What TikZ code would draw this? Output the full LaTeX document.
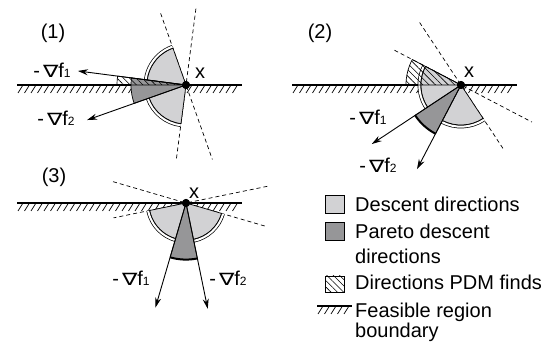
\documentclass[tikz,border=0pt]{standalone}
\usepackage{fontspec}
\setmainfont{Liberation Sans}
\newfontfamily\dejavu{DejaVu Sans}
\usetikzlibrary{arrows.meta,patterns.meta}
\definecolor{lightg}{RGB}{210,210,212}
\definecolor{darkg}{RGB}{150,150,152}
\newcommand{\nab}{{\dejavu\scalebox{1.15}[0.85]{∇}}}
\newcommand{\ngrad}[1]{-\hspace{3pt}\nab f{\fontsize{12}{12}\selectfont #1}}
\newcommand{\groundhatch}[2]{\foreach \xx in {#1} {\draw[hstroke] (\xx,#2) -- ++(-5,-8);}}
\begin{document}
\begin{tikzpicture}[x=1pt,y=1pt, font=\fontsize{20}{24}\selectfont,
  gline/.style={line width=1.6pt},
  hstroke/.style={line width=0.7pt},
  dline/.style={line width=0.7pt, dash pattern=on 4pt off 3pt},
  lightsec/.style={fill=lightg, draw=black, line width=0.7pt, line join=round},
  darksec/.style={fill=darkg, draw=black, line width=0.7pt, line join=round},
  hatchsec/.style={pattern={Lines[angle=-45,distance=4.5pt,line width=0.6pt]}, draw=black, line width=0.7pt, line join=round},
  dblarc/.style={draw=black, line width=0.7pt, double=white, double distance=2pt},
  thickarc/.style={line width=2pt},
  arr/.style={line width=0.9pt, -{Stealth[length=10pt,width=6pt]}},
  dotnode/.style={circle, fill=black, inner sep=0pt, minimum size=8pt},
  lbl/.style={inner sep=0pt},
  legbox/.style={draw=black, line width=0.7pt, minimum width=19pt, inner sep=0pt},
]
\useasboundingbox (0,0) rectangle (550,343);

% ---------------- Panel 1 ----------------
\begin{scope}[shift={(186,258)}]
  \draw[gline] (-169,0) -- (56,0);
  \groundhatch{-163,-156.5,...,54}{0}
  \draw[dline] (82.6:77pt) -- (262.6:75pt);
  \draw[dline] (109.5:76pt) -- (289.5:79pt);
  \filldraw[lightsec] (0,0) -- (109.5:39pt) arc[start angle=109.5, end angle=262.6, radius=39pt] -- cycle;
  \draw[dblarc] (109.5:40.7pt) arc[start angle=109.5, end angle=262.6, radius=40.7pt];
  \filldraw[darksec] (0,0) -- (172.6:55pt) arc[start angle=172.6, end angle=199.5, radius=55pt] -- cycle;
  \draw[hatchsec] (0,0) -- (172.6:69pt) arc[start angle=172.6, end angle=180, radius=69pt] -- cycle;
  \coordinate (t11) at (172.6:109pt);
  \coordinate (t12) at (199.5:105pt);
  \node[dotnode] (p1) at (0,0) {};
  \draw[arr] (p1.center) -- (t11);
  \draw[arr] (p1.center) -- (t12);
  \node[dotnode] at (p1) {};
\end{scope}
\node[lbl] (n1) at (53,310) {(1)};
\node[lbl] (x1) at (200,270) {x};
\node[lbl] (g11) at (52,273) {\ngrad{1}};
\node[lbl] (g12) at (56,225) {\ngrad{2}};

% ---------------- Panel 2 ----------------
\begin{scope}[shift={(461,258)}]
  \draw[gline] (-169,0) -- (56,0);
  \groundhatch{-163,-156.5,...,54}{0}
  \draw[dline] (123.5:75pt) -- (303.5:78.5pt);
  \draw[dline] (152.4:75pt) -- (332.4:80pt);
  \filldraw[lightsec] (0,0) -- (152.4:40pt) arc[start angle=152.4, end angle=303.5, radius=40pt] -- cycle;
  \draw[dblarc] (152.4:41.7pt) arc[start angle=152.4, end angle=303.5, radius=41.7pt];
  \filldraw[darksec] (0,0) -- (213.5:55pt) arc[start angle=213.5, end angle=242.4, radius=55pt] -- cycle;
  \draw[thickarc] (213.5:55pt) arc[start angle=213.5, end angle=242.4, radius=55pt];
  \draw[hatchsec] (0,0) -- (152.4:55pt) arc[start angle=152.4, end angle=180, radius=55pt] -- cycle;
  \coordinate (t21) at (213.5:107pt);
  \coordinate (t22) at (242.4:95pt);
  \node[dotnode] (p2) at (0,0) {};
  \draw[arr] (p2.center) -- (t21);
  \draw[arr] (p2.center) -- (t22);
  \node[dotnode] at (p2) {};
\end{scope}
\node[lbl] (n2) at (320,310) {(2)};
\node[lbl] (x2) at (469,271) {x};
\node[lbl] (g21) at (368,226) {\ngrad{1}};
\node[lbl] (g22) at (378,178) {\ngrad{2}};

% ---------------- Panel 3 ----------------
\begin{scope}[shift={(186,140)}]
  \draw[gline] (-169,0) -- (56,0);
  \groundhatch{-163,-156.5,...,54}{0}
  \draw[dline] (163.7:76pt) -- (343.7:83pt);
  \draw[dline] (11.6:83pt) -- (191.6:74pt);
  \filldraw[lightsec] (0,0) -- (191.6:37pt) arc[start angle=191.6, end angle=343.7, radius=37pt] -- cycle;
  \draw[dblarc] (191.6:38.7pt) arc[start angle=191.6, end angle=343.7, radius=38.7pt];
  \filldraw[darksec] (0,0) -- (253.7:56.6pt) arc[start angle=253.7, end angle=281.6, radius=56.6pt] -- cycle;
  \draw[thickarc] (253.7:56.6pt) arc[start angle=253.7, end angle=281.6, radius=56.6pt];
  \coordinate (t31) at (253.7:109pt);
  \coordinate (t32) at (281.6:108pt);
  \node[dotnode] (p3) at (0,0) {};
  \draw[arr] (p3.center) -- (t31);
  \draw[arr] (p3.center) -- (t32);
  \node[dotnode] at (p3) {};
\end{scope}
\node[lbl] (n3) at (54,166) {(3)};
\node[lbl] (x3) at (194,150) {x};
\node[lbl] (g31) at (131,65) {\ngrad{1}};
\node[lbl] (g32) at (228,65) {\ngrad{2}};

% ---------------- Legend ----------------
\node[legbox, fill=lightg, minimum height=18pt] (b1) at (334.5,139) {};
\node[legbox, fill=darkg, minimum height=18pt] (b2) at (334.5,111.5) {};
\node[legbox, minimum height=16pt, pattern={Lines[angle=-45,distance=4.5pt,line width=0.6pt]}] (b3) at (334.5,59) {};
\draw[gline] (317,37) -- (352,37);
\groundhatch{323,329.5,...,351}{37}
\node[lbl, anchor=base west] (l1) at (355,131.3) {Descent directions};
\node[lbl, anchor=base west] (l2a) at (355,104) {Pareto descent};
\node[lbl, anchor=base west] (l2b) at (355,79.7) {directions};
\node[lbl, anchor=base west] (l3) at (355,53) {Directions PDM finds};
\node[lbl, anchor=base west] (l4a) at (355,25.3) {Feasible region};
\node[lbl, anchor=base west] (l4b) at (355,5) {boundary};
\end{tikzpicture}
\end{document}
